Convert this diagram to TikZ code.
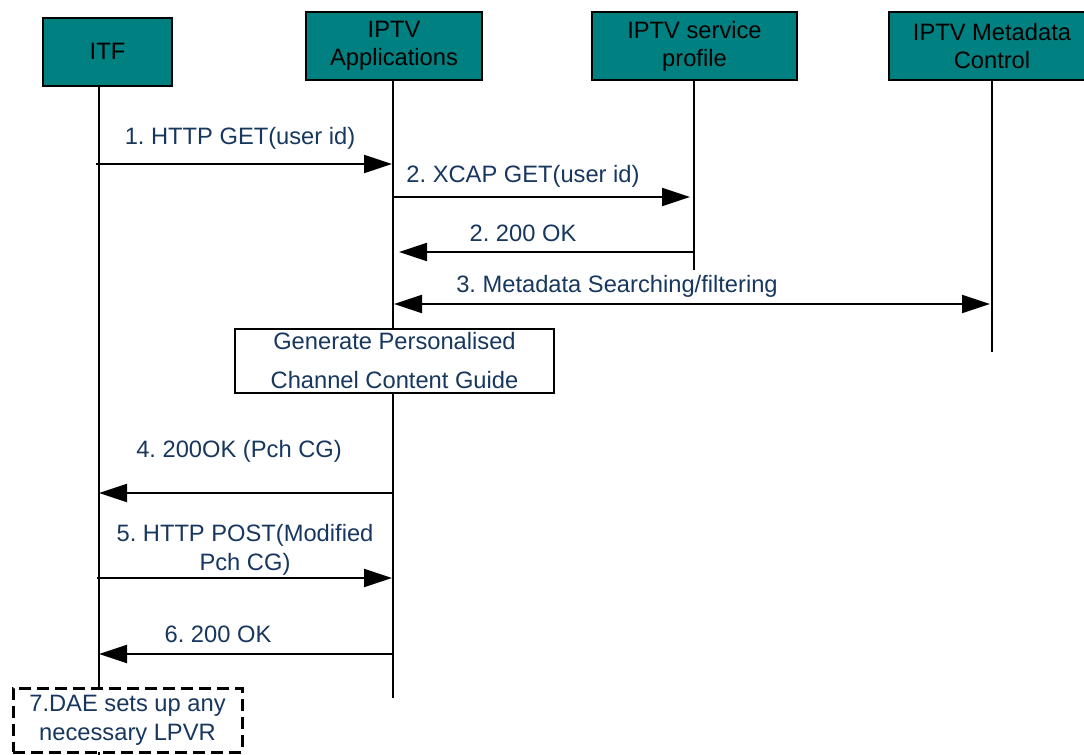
\documentclass[tikz,border=0pt]{standalone}
\usepackage{fontspec}
\setmainfont{Liberation Sans}
\usetikzlibrary{arrows.meta}
\frenchspacing

\definecolor{entityteal}{RGB}{0,128,128}
\definecolor{msgnavy}{RGB}{23,55,94}

\tikzset{
  entity/.style={draw, line width=1pt, fill=entityteal, align=center, inner sep=0pt,
    minimum height=34pt, font=\fontsize{11.85}{14}\selectfont},
  lifeline/.style={line width=1pt},
  msg/.style={line width=1pt, -{Triangle[length=14pt,width=9pt]}},
  dmsg/.style={line width=1pt, {Triangle[length=14pt,width=9pt]}-{Triangle[length=14pt,width=9pt]}},
  msglabel/.style={text=msgnavy, inner sep=0pt, align=center, font=\fontsize{11.85}{14.5}\selectfont},
}

\begin{document}
\begin{tikzpicture}[x=0.5pt, y=-0.5pt]
    \useasboundingbox (0,0) rectangle (1084,755);

    % Entities
    \node[entity, minimum width=64.5pt] (itf) at (107.5,51.5) {ITF};
    \node[entity, minimum width=88pt] (apps) at (394,46) {IPTV\\Applications};
    \node[entity, minimum width=102.5pt] (prof) at (694.5,46) {IPTV service\\profile};
    \node[entity, minimum width=103pt] (meta) at (992,46) {IPTV Metadata\\Control};

    % Lifeline ends
    \coordinate (itftop) at (99,86);
    \coordinate (itfend) at (99,755);
    \coordinate (appstop) at (393,80);
    \coordinate (appsend) at (393,698);
    \coordinate (proftop) at (694,80);
    \coordinate (profend) at (694,270);
    \coordinate (metatop) at (992,80);
    \coordinate (metaend) at (992,352);

    % Lifelines
    \draw[lifeline] (itftop) -- (itfend);
    \draw[lifeline] (appstop) -- (appsend);
    \draw[lifeline] (proftop) -- (profend);
    \draw[lifeline] (metatop) -- (metaend);

    % Message end points
    \coordinate (m1a) at (96,164);   \coordinate (m1b) at (392,164);
    \coordinate (m2a) at (393,197);  \coordinate (m2b) at (690,197);
    \coordinate (m3a) at (694,252);  \coordinate (m3b) at (399,252);
    \coordinate (m4a) at (394,304);  \coordinate (m4b) at (990,304);
    \coordinate (m5a) at (394,493);  \coordinate (m5b) at (99,493);
    \coordinate (m6a) at (97,578);   \coordinate (m6b) at (392,578);
    \coordinate (m7a) at (394,654);  \coordinate (m7b) at (99,654);

    % Messages
    \draw[msg] (m1a) -- (m1b);
    \draw[msg] (m2a) -- (m2b);
    \draw[msg] (m3a) -- (m3b);
    \draw[dmsg] (m4a) -- (m4b);
    \draw[msg] (m5a) -- (m5b);
    \draw[msg] (m6a) -- (m6b);
    \draw[msg] (m7a) -- (m7b);

    % Message labels
    \node[msglabel, anchor=base] (l1) at (240,144) {1. HTTP GET(user id)};
    \node[msglabel, anchor=base] (l2) at (523,182) {2. XCAP GET(user id)};
    \node[msglabel, anchor=base] (l3) at (523,241) {2. 200 OK};
    \node[msglabel, anchor=base] (l4) at (617,292) {3. Metadata Searching/filtering};
    \node[msglabel, anchor=base] (l5) at (239,457) {4. 200OK (Pch CG)};
    \node[msglabel] (l6) at (245,550) {5. HTTP POST(Modified\\Pch CG)};
    \node[msglabel, anchor=base] (l7) at (218,642) {6. 200 OK};

    % Local processing
    \node[draw, line width=1pt, fill=white, text=msgnavy, inner sep=0pt, align=center,
      minimum width=159.5pt, minimum height=32pt,
      font=\fontsize{11.85}{19.5}\selectfont] (guide) at (394.5,361)
      {Generate Personalised\\Channel Content Guide};
    \node[draw, line width=1.5pt, dash pattern=on 6pt off 3pt, fill=white, text=msgnavy,
      inner sep=0pt, align=center, minimum width=114.5pt, minimum height=32pt,
      font=\fontsize{11.85}{14.5}\selectfont] (lpvr) at (127.5,720)
      {7.DAE sets up any\\necessary LPVR};
\end{tikzpicture}
\end{document}
